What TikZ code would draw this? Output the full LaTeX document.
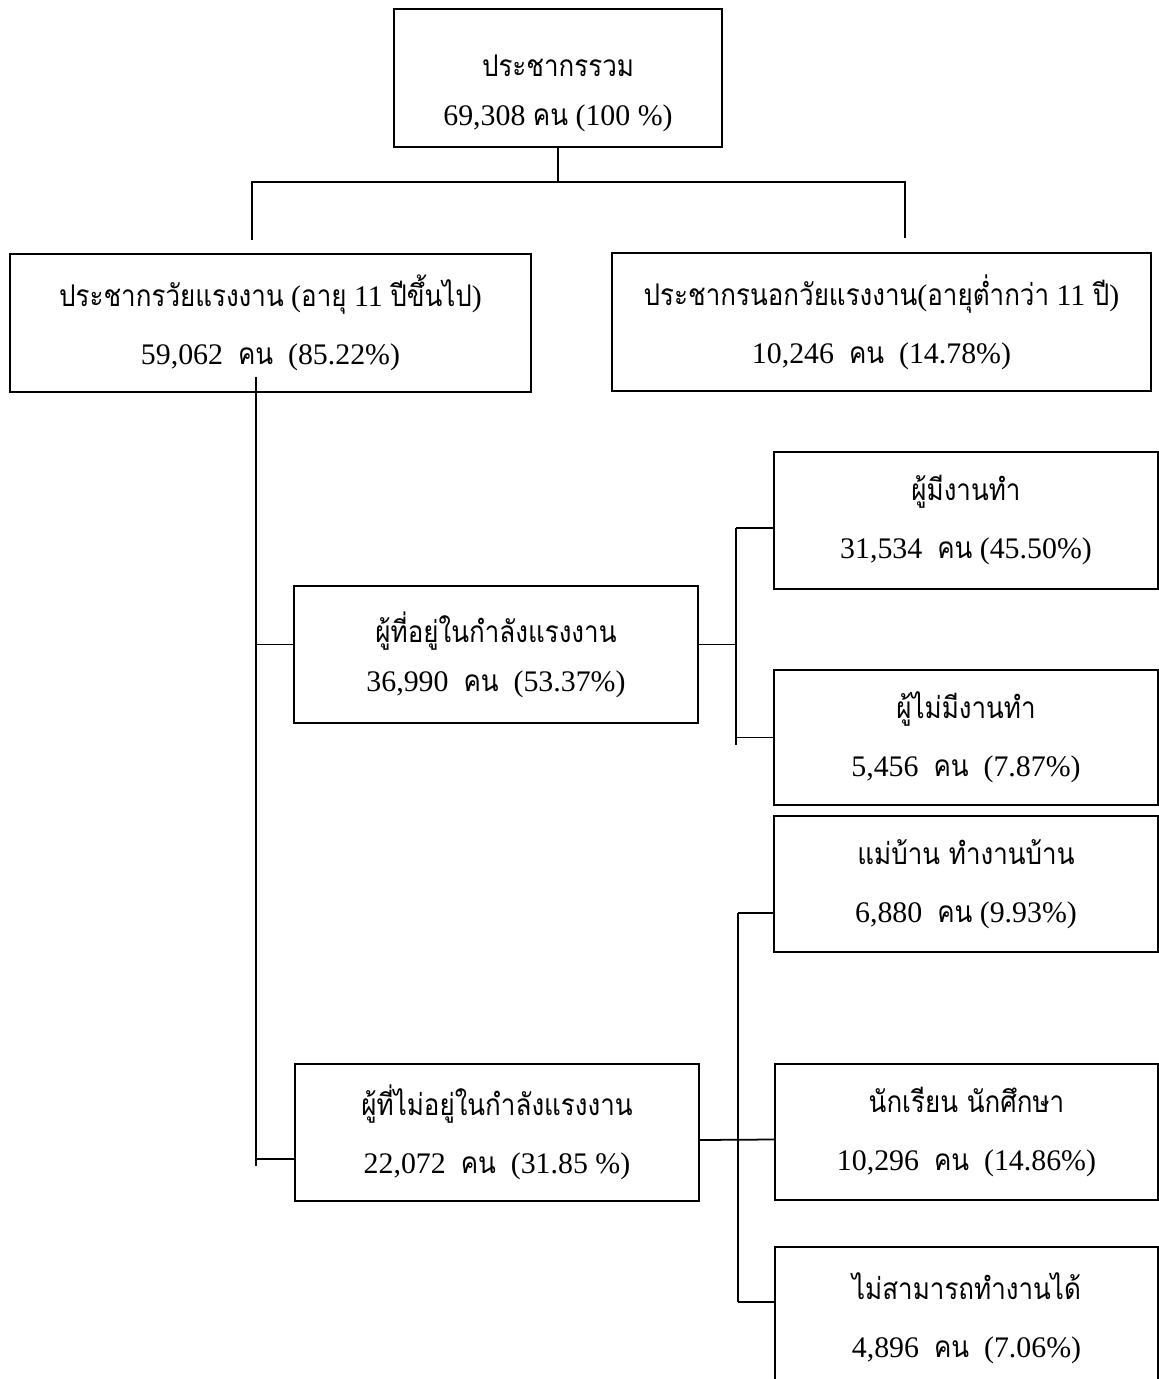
\documentclass[tikz,border=0pt]{standalone}
\usepackage{fontspec}
\setmainfont{Liberation Serif}
\newfontfamily\thaifont[Script=Thai,FakeStretch=0.87]{Loma}
\newcommand{\tx}[1]{{\thaifont #1}}

\begin{document}
\begin{tikzpicture}[x=0.02cm,y=-0.02cm,line width=1pt,
  every text node part/.style={align=center},
  box/.style={draw,line width=1.3pt,inner sep=0pt,font=\fontsize{17}{33}\selectfont}]

\useasboundingbox (0,0) rectangle (1159,1379);

\node[box,minimum width=6.56cm,minimum height=2.76cm] (total) at (558,78) {\rule{0pt}{30pt}\tx{ประชากรรวม}\\[-5pt]69,308 \tx{คน} (100 \%)};
\node[box,minimum width=10.42cm,minimum height=2.76cm] (wa) at (270.5,323) {\tx{ประชากรวัยแรงงาน} (\tx{อายุ} 11 \tx{ปีขึ้นไป})\\59,062\ \ \tx{คน}\ \ (85.22\%)};
\node[box,minimum width=10.78cm,minimum height=2.76cm] (nwa) at (881.5,322) {\tx{ประชากรนอกวัยแรงงาน}(\tx{อายุต่ำกว่า} 11 \tx{ปี})\\10,246\ \ \tx{คน}\ \ (14.78\%)};

\node[box,minimum width=8.08cm,minimum height=2.74cm] (lf) at (496,654.5) {\tx{ผู้ที่อยู่ในกำลังแรงงาน}\\[-5pt]36,990\ \ \tx{คน}\ \ (53.37\%)};
\node[box,minimum width=8.08cm,minimum height=2.74cm] (nlf) at (497,1132.5) {\tx{ผู้ที่ไม่อยู่ในกำลังแรงงาน}\\22,072\ \ \tx{คน}\ \ (31.85 \%)};

\node[box,minimum width=7.68cm,minimum height=2.74cm] (emp) at (966,520.5) {\tx{ผู้มีงานทำ}\\31,534\ \ \tx{คน} (45.50\%)};
\node[box,minimum width=7.68cm,minimum height=2.70cm] (unemp) at (966,737.5) {\tx{ผู้ไม่มีงานทำ}\\5,456\ \ \tx{คน}\ \ (7.87\%)};
\node[box,minimum width=7.68cm,minimum height=2.72cm] (house) at (966,884) {\tx{แม่บ้าน ทำงานบ้าน}\\6,880\ \ \tx{คน} (9.93\%)};
\node[box,minimum width=7.66cm,minimum height=2.72cm] (stud) at (966.5,1132) {\tx{นักเรียน นักศึกษา}\\10,296\ \ \tx{คน}\ \ (14.86\%)};
\node[box,minimum width=7.66cm,minimum height=2.84cm] (dis) at (966.5,1318) {\tx{ไม่สามารถทำงานได้}\\4,896\ \ \tx{คน}\ \ (7.06\%)};

\coordinate (forkL) at (252,182);
\coordinate (forkR) at (905,182);
\coordinate (waTop) at (252,240);
\coordinate (nwaTop) at (905,238);
\draw (total.south) -- (total.south |- forkL);
\draw (waTop) -- (forkL) -- (forkR) -- (nwaTop);

\coordinate (trunkTop) at (256,377);
\coordinate (trunkBot) at (256,1166);
\draw (trunkTop) -- (trunkBot);
\draw ([yshift=0.2cm]lf.west) -- ([yshift=0.2cm]lf.west -| trunkTop);
\draw ([yshift=-0.53cm]nlf.west) -- ([yshift=-0.53cm]nlf.west -| trunkTop);

\coordinate (busAtop) at (736,528);
\coordinate (busAbot) at (736,745);
\draw (busAtop) -- (busAbot);
\draw ([yshift=0.2cm]lf.east) -- ([yshift=0.2cm]lf.east -| busAtop);
\draw (busAtop) -- (busAtop -| emp.west);
\draw (unemp.west) -- (unemp.west -| busAtop);

\coordinate (busBtop) at (738,913);
\coordinate (busBbot) at (738,1302);
\draw (busBtop) -- (busBbot);
\draw (busBtop) -- (busBtop -| house.west);
\draw ([yshift=-0.15cm]nlf.east) -- ([yshift=-0.15cm]stud.west);
\draw (busBbot) -- (busBbot -| dis.west);

\end{tikzpicture}
\end{document}
